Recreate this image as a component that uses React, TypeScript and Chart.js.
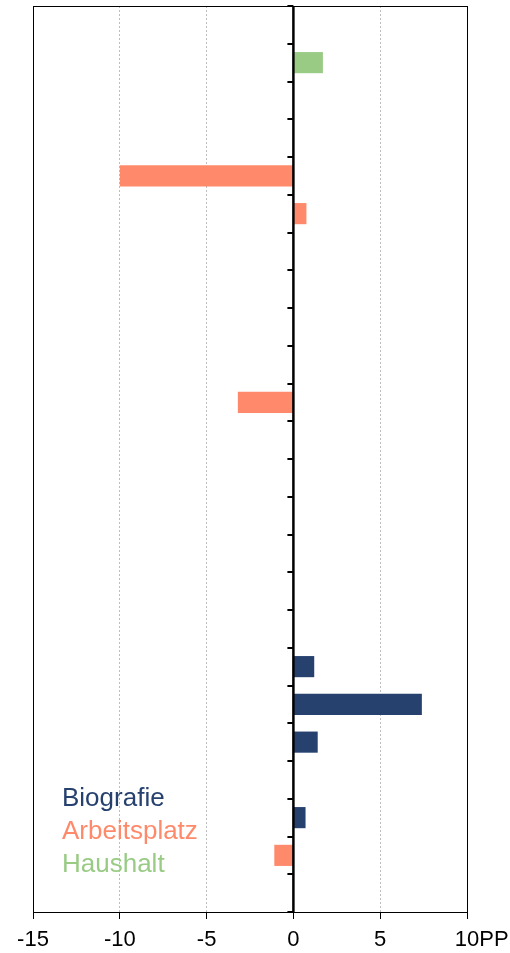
import React, { useEffect, useRef } from "react";
import { Chart, registerables } from "chart.js";

Chart.register(...registerables);

const categories: string[] = [
  "1", "2", "3", "4", "5", "6", "7", "8", "9", "10", "11", "12",
  "13", "14", "15", "16", "17", "18", "19", "20", "21", "22", "23", "24",
];

const biografie: (number | null)[] = [
  null, null, null, null, null, null, null, null, null, null, null, null,
  null, null, null, null, null, 1.2, 7.4, 1.4, null, 0.7, null, null,
];

const arbeitsplatz: (number | null)[] = [
  null, null, null, null, -10.0, 0.75, null, null, null, null, -3.2, null,
  null, null, null, null, null, null, null, null, null, null, -1.1, null,
];

const haushalt: (number | null)[] = [
  null, 1.7, null, null, null, null, null, null, null, null, null, null,
  null, null, null, null, null, null, null, null, null, null, null, null,
];

const seriesNames = ["Biografie", "Arbeitsplatz", "Haushalt"];
const seriesColors = ["#27416F", "#FF8A6B", "#99CB85"];

const xMin = -15;
const xMax = 10;
const xStep = 5;
const unitLabel = "PP";

const FONT = "'Liberation Sans', Arial, sans-serif";
const TICK_LEN = 7;
const TICK_PAD = 8;
const TICK_FONT = 22;

const overlayPlugin = {
  id: "overlay",
  afterDatasetsDraw(chart: any) {
    const { ctx, chartArea, scales } = chart;
    const xs = scales.x;
    const ys = scales.y;
    const { left, right, top, bottom } = chartArea;
    ctx.save();
    // frame
    ctx.strokeStyle = "#000";
    ctx.lineWidth = 1;
    ctx.setLineDash([]);
    ctx.strokeRect(Math.round(left) + 0.5, Math.round(top) + 0.5, Math.round(right - left), Math.round(bottom - top));
    // zero line
    const x0 = xs.getPixelForValue(0);
    ctx.lineWidth = 2.5;
    ctx.beginPath();
    ctx.moveTo(x0, top);
    ctx.lineTo(x0, bottom);
    ctx.stroke();
    // category boundary ticks on zero line
    ctx.lineWidth = 2;
    for (let i = 0; i <= categories.length; i++) {
      const y = Math.round(ys.getPixelForValue(i - 0.5));
      ctx.beginPath();
      ctx.moveTo(x0 - 6, y);
      ctx.lineTo(x0, y);
      ctx.stroke();
    }
    // unit label, aligned with the tick labels
    ctx.font = `${TICK_FONT}px ${FONT}`;
    ctx.fillStyle = "#000";
    const w10 = ctx.measureText(String(xMax)).width;
    ctx.textBaseline = "middle";
    ctx.textAlign = "left";
    const ly = xs.top + TICK_LEN + TICK_PAD + (TICK_FONT * 1.2) / 2;
    ctx.fillText(unitLabel, xs.getPixelForValue(xMax) + w10 / 2, ly);
    // legend
    ctx.font = `26px ${FONT}`;
    ctx.textBaseline = "alphabetic";
    const offsets = [106, 73, 40];
    seriesNames.forEach((n, i) => {
      ctx.fillStyle = seriesColors[i];
      ctx.fillText(n, left + 29, bottom - offsets[i]);
    });
    ctx.restore();
  },
};

export default function App() {
  const ref = useRef<HTMLCanvasElement | null>(null);
  useEffect(() => {
    if (!ref.current) return;
    const chart = new Chart(ref.current, {
      type: "bar",
      data: {
        labels: categories,
        datasets: [
          { label: seriesNames[0], data: biografie, backgroundColor: seriesColors[0] },
          { label: seriesNames[1], data: arbeitsplatz, backgroundColor: seriesColors[1] },
          { label: seriesNames[2], data: haushalt, backgroundColor: seriesColors[2] },
        ],
      },
      options: {
        indexAxis: "y",
        responsive: false,
        animation: false,
        maintainAspectRatio: false,
        layout: { padding: { left: 33, right: 43, top: 6, bottom: 0 } },
        datasets: { bar: { barPercentage: 0.56, categoryPercentage: 1 } },
        plugins: { legend: { display: false }, tooltip: { enabled: false } },
        scales: {
          x: {
            type: "linear",
            min: xMin,
            max: xMax,
            stacked: true,
            afterFit: (s: any) => {
              s.height = 41;
            },
            ticks: {
              stepSize: xStep,
              color: "#000",
              padding: TICK_PAD,
              font: { size: TICK_FONT, family: FONT },
            },
            grid: {
              color: (c: any) =>
                c.tick && c.tick.value !== xMin && c.tick.value !== xMax && c.tick.value !== 0
                  ? "#bdbdbd"
                  : "rgba(0,0,0,0)",
              tickColor: "#000",
              tickLength: TICK_LEN,
              lineWidth: 1,
            },
            border: { display: true, color: "#000", dash: [2, 2] },
          },
          y: {
            type: "category",
            stacked: true,
            display: false,
          },
        },
      },
      plugins: [overlayPlugin],
    } as any);
    return () => chart.destroy();
  }, []);
  return (
    <div style={{ position: "absolute", left: 0, top: 0, width: 510, height: 953, background: "#fff" }}>
      <canvas ref={ref} width={510} height={953} style={{ display: "block" }} />
    </div>
  );
}
